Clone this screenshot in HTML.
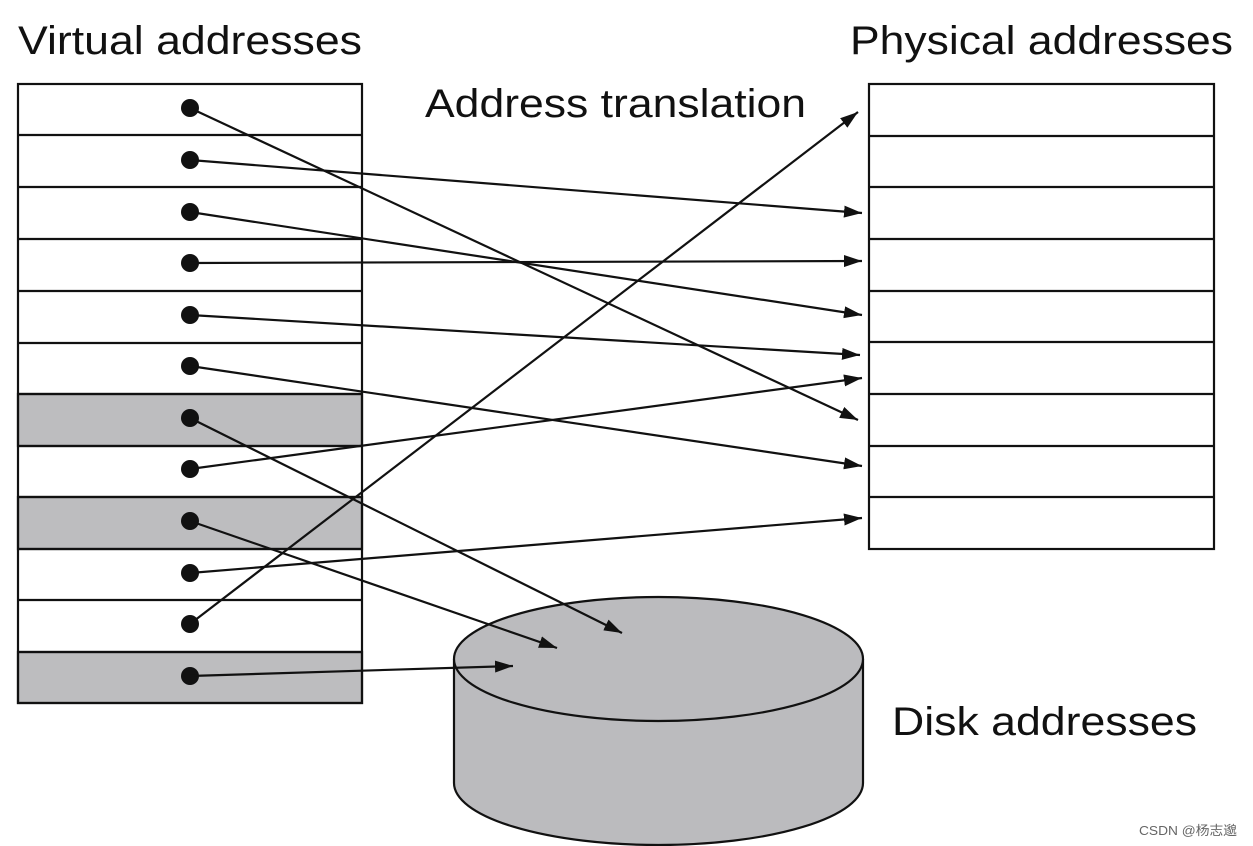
<!DOCTYPE html>
<html><head><meta charset="utf-8"><style>
body{margin:0;background:#fff;}
svg{display:block;font-family:"Liberation Sans","Noto Sans CJK SC",sans-serif;}
</style></head><body>
<svg width="1253" height="846" viewBox="0 0 1253 846">
<defs><marker id="a" viewBox="0 0 18 12" refX="18" refY="6" markerWidth="18" markerHeight="12" markerUnits="userSpaceOnUse" orient="auto"><path d="M0,0L18,6L0,12z" fill="#111"/></marker></defs>
<text x="18" y="54" font-size="40" fill="#111" textLength="344" lengthAdjust="spacingAndGlyphs">Virtual addresses</text>
<text x="850" y="54" font-size="40" fill="#111" textLength="383" lengthAdjust="spacingAndGlyphs">Physical addresses</text>
<text x="425" y="117" font-size="40" fill="#111" textLength="381" lengthAdjust="spacingAndGlyphs">Address translation</text>
<text x="892" y="735" font-size="40" fill="#111" textLength="305" lengthAdjust="spacingAndGlyphs">Disk addresses</text>
<text x="1139" y="835" font-size="13" fill="#666" textLength="98" lengthAdjust="spacingAndGlyphs">CSDN @杨志邈</text>
<g stroke="#111" stroke-width="2.2">
<rect x="18" y="394" width="344" height="52" fill="#bdbdbf"/>
<rect x="18" y="497" width="344" height="52" fill="#bdbdbf"/>
<rect x="18" y="652" width="344" height="51" fill="#bdbdbf"/>
<rect x="18" y="84" width="344" height="619" fill="none"/>
<path d="M18 135H362M18 187H362M18 239H362M18 291H362M18 343H362M18 394H362M18 446H362M18 497H362M18 549H362M18 600H362M18 652H362"/>
<rect x="869" y="84" width="345" height="465" fill="none"/>
<path d="M869 136H1214M869 187H1214M869 239H1214M869 291H1214M869 342H1214M869 394H1214M869 446H1214M869 497H1214"/>
<path d="M454 659V783A204.5 62 0 0 0 863 783V659" fill="#bbbbbe"/>
<ellipse cx="658.5" cy="659" rx="204.5" ry="62" fill="#bbbbbe"/>
</g>
<g fill="#111">
<circle cx="190" cy="108" r="9"/><circle cx="190" cy="160" r="9"/><circle cx="190" cy="212" r="9"/><circle cx="190" cy="263" r="9"/><circle cx="190" cy="315" r="9"/><circle cx="190" cy="366" r="9"/><circle cx="190" cy="418" r="9"/><circle cx="190" cy="469" r="9"/><circle cx="190" cy="521" r="9"/><circle cx="190" cy="573" r="9"/><circle cx="190" cy="624" r="9"/><circle cx="190" cy="676" r="9"/>
</g>
<g stroke="#111" stroke-width="2.2" marker-end="url(#a)">
<line x1="190" y1="108" x2="858" y2="420"/>
<line x1="190" y1="160" x2="862" y2="213"/>
<line x1="190" y1="212" x2="862" y2="315"/>
<line x1="190" y1="263" x2="862" y2="261"/>
<line x1="190" y1="315" x2="860" y2="355"/>
<line x1="190" y1="366" x2="862" y2="466"/>
<line x1="190" y1="418" x2="622" y2="633"/>
<line x1="190" y1="469" x2="862" y2="378"/>
<line x1="190" y1="521" x2="557" y2="648"/>
<line x1="190" y1="573" x2="862" y2="518"/>
<line x1="190" y1="624" x2="858" y2="112"/>
<line x1="190" y1="676" x2="513" y2="666"/>
</g>
</svg>
</body></html>
